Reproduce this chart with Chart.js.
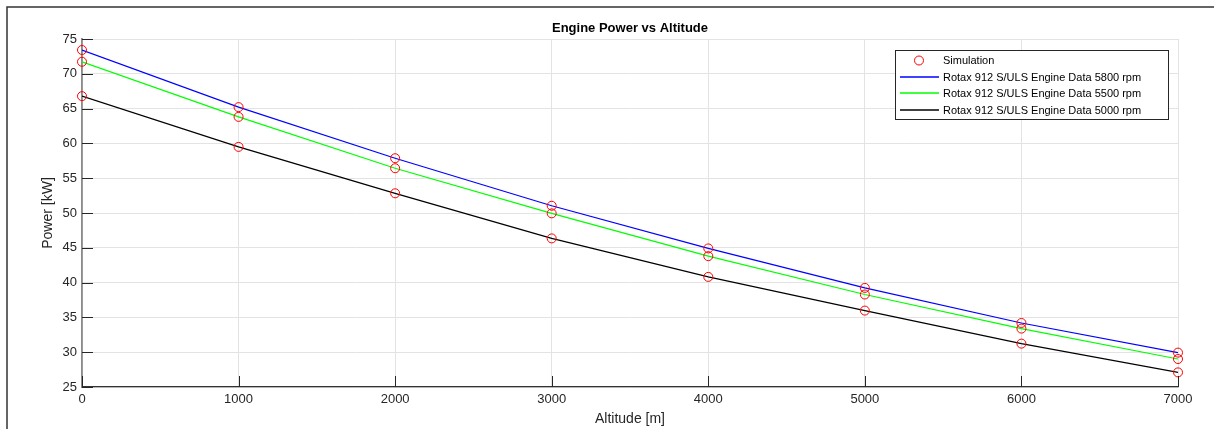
<!DOCTYPE html>
<html>
<head>
<meta charset="utf-8">
<script src="https://cdn.jsdelivr.net/npm/chart.js@4"></script>
<style>
  html, body { margin: 0; padding: 0; background: #fff; }
  canvas { display: block; }
</style>
</head>
<body>
<canvas id="powerChart" width="1214" height="429"></canvas>
<script>
// altitude in m, power in kW
const altitudes = [0, 1000, 2000, 3000, 4000, 5000, 6000, 7000];
const rotax5800 = [73.42, 65.21, 57.87, 51.04, 44.91, 39.24, 34.20, 29.94];
const rotax5500 = [71.73, 63.81, 56.43, 49.95, 43.80, 38.29, 33.39, 29.02];
const rotax5000 = [66.79, 59.50, 52.83, 46.35, 40.82, 35.98, 31.23, 27.10];
const sim5800 = [73.42, 65.21, 57.87, 51.04, 44.91, 39.24, 34.20, 29.94];
const sim5500 = [71.73, 63.81, 56.43, 49.95, 43.80, 38.29, 33.39, 29.02];
const sim5000 = [66.79, 59.50, 52.83, 46.35, 40.82, 35.98, 31.23, 27.10];
const xTicks = [0, 1000, 2000, 3000, 4000, 5000, 6000, 7000];
const yTicks = [25, 30, 35, 40, 45, 50, 55, 60, 65, 70, 75];

const FONT = "'Liberation Sans', Arial, sans-serif";
const toPoints = (ys) => altitudes.map((a, i) => ({ x: a, y: ys[i] }));
const simPoints = [].concat(toPoints(sim5800), toPoints(sim5500), toPoints(sim5000));

// ticks drawn inside the axes, plus outer frame, title and boxed legend
const matlabLook = {
    id: 'matlabLook',
    beforeDraw(chart) {
        const c = chart.ctx;
        c.save();
        c.fillStyle = '#fff';
        c.fillRect(0, 0, chart.width, chart.height);
        c.restore();
    },
    afterDraw(chart) {
        const c = chart.ctx;
        const area = chart.chartArea;
        const xs = chart.scales.x, ys = chart.scales.y;
        c.save();
        c.strokeStyle = '#262626';
        c.lineWidth = 1;
        c.beginPath();
        xs.ticks.forEach(t => {
            const px = Math.round(xs.getPixelForValue(t.value)) + 0.5;
            c.moveTo(px, area.bottom);
            c.lineTo(px, area.bottom - 11);
        });
        ys.ticks.forEach(t => {
            const py = Math.round(ys.getPixelForValue(t.value)) + 0.5;
            c.moveTo(area.left, py);
            c.lineTo(area.left + 11, py);
        });
        c.stroke();

        // figure frame
        c.strokeStyle = '#333';
        c.lineWidth = 1.5;
        c.beginPath();
        c.moveTo(7, chart.height);
        c.lineTo(7, 7);
        c.lineTo(chart.width, 7);
        c.stroke();

        // title
        c.fillStyle = '#000';
        c.font = 'bold 13px ' + FONT;
        c.textAlign = 'center';
        c.textBaseline = 'middle';
        c.fillText('Engine Power vs Altitude', (area.left + area.right) / 2, 28);

        // legend
        const lx = 895, ly = 50, lw = 273, lh = 69;
        c.fillStyle = '#fff';
        c.fillRect(lx, ly, lw, lh);
        c.strokeStyle = '#262626';
        c.lineWidth = 1;
        c.strokeRect(lx + 0.5, ly + 0.5, lw, lh);
        c.font = '11px ' + FONT;
        c.textAlign = 'left';
        chart.data.datasets.forEach((ds, i) => {
            const ry = Math.round(60 + i * 16.5);
            c.strokeStyle = ds.borderColor;
            c.beginPath();
            if (ds.showLine === false) {
                c.lineWidth = 1;
                c.arc(919, ry + 0.5, 4.5, 0, Math.PI * 2);
            } else {
                c.lineWidth = 1.4;
                c.moveTo(900, ry);
                c.lineTo(939, ry);
            }
            c.stroke();
            c.fillStyle = '#000';
            c.fillText(ds.label, 943, ry + 0.5);
        });
        c.restore();
    }
};

const ctx = document.getElementById('powerChart').getContext('2d');
const powerChart = new Chart(ctx, {
    type: 'scatter',
    data: {
        datasets: [{
            label: 'Simulation',
            data: simPoints,
            showLine: false,
            clip: false,
            pointStyle: 'circle',
            pointRadius: 4.5,
            pointBorderWidth: 1,
            borderColor: '#ff0000',
            backgroundColor: 'rgba(0,0,0,0)',
            order: 0
        }, {
            label: 'Rotax 912 S/ULS Engine Data 5800 rpm',
            data: toPoints(rotax5800),
            showLine: true,
            pointRadius: 0,
            borderWidth: 1.2,
            borderColor: '#0000ff',
            order: 1
        }, {
            label: 'Rotax 912 S/ULS Engine Data 5500 rpm',
            data: toPoints(rotax5500),
            showLine: true,
            pointRadius: 0,
            borderWidth: 1.2,
            borderColor: '#00ff00',
            order: 1
        }, {
            label: 'Rotax 912 S/ULS Engine Data 5000 rpm',
            data: toPoints(rotax5000),
            showLine: true,
            pointRadius: 0,
            borderWidth: 1.2,
            borderColor: '#000000',
            order: 1
        }]
    },
    options: {
        responsive: false,
        animation: false,
        devicePixelRatio: 1,
        layout: { padding: { top: 39, right: 36, left: 0, bottom: 0 } },
        plugins: {
            legend: { display: false },
            title: { display: false },
            tooltip: { enabled: false }
        },
        scales: {
            x: {
                type: 'linear',
                min: xTicks[0],
                max: xTicks[xTicks.length - 1],
                afterBuildTicks: (s) => { s.ticks = xTicks.map(v => ({ value: v })); },
                afterFit: (s) => { s.height = 42; },
                ticks: {
                    color: '#262626',
                    font: { family: FONT, size: 13 },
                    padding: 5,
                    maxRotation: 0,
                    callback: (v) => String(v)
                },
                grid: { color: '#e3e3e3', lineWidth: 1, drawTicks: false },
                border: { display: true, color: '#333', width: 1.2 },
                title: {
                    display: true,
                    text: 'Altitude [m]',
                    color: '#262626',
                    font: { family: FONT, size: 14 },
                    padding: { top: 0, bottom: 1 }
                }
            },
            y: {
                type: 'linear',
                min: yTicks[0],
                max: yTicks[yTicks.length - 1],
                afterBuildTicks: (s) => { s.ticks = yTicks.map(v => ({ value: v })); },
                afterFit: (s) => { s.width = 82; },
                ticks: {
                    color: '#262626',
                    font: { family: FONT, size: 13 },
                    padding: 5,
                    callback: (v) => String(v)
                },
                grid: { color: '#e3e3e3', lineWidth: 1, drawTicks: false },
                border: { display: true, color: '#8a8a8a', width: 1.8 },
                title: {
                    display: true,
                    text: 'Power [kW]',
                    color: '#262626',
                    font: { family: FONT, size: 14 },
                    padding: { top: 40, bottom: 0 }
                }
            }
        }
    },
    plugins: [matlabLook]
});
</script>
</body>
</html>
